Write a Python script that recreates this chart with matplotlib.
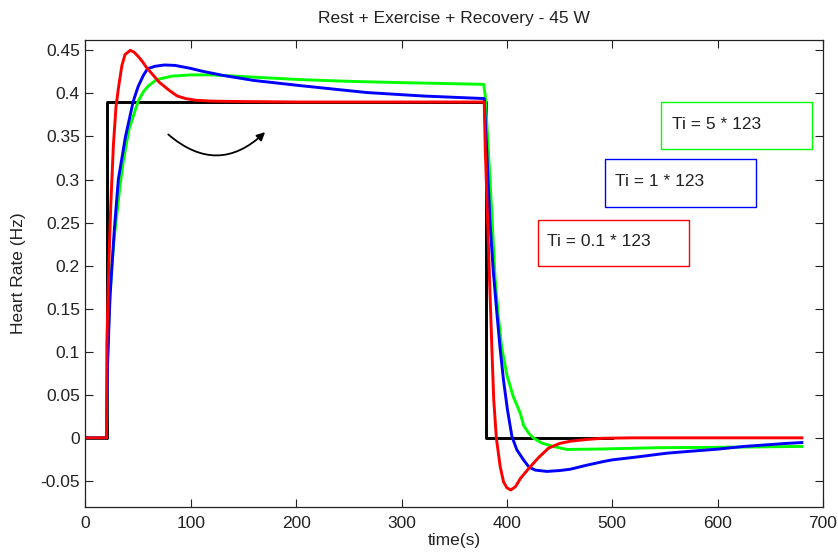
import matplotlib.pyplot as plt
from matplotlib.patches import Rectangle

plt.rcParams['font.family'] = ['Liberation Sans', 'DejaVu Sans']

# input step (black)
t_step = [0, 20, 20, 380, 380, 500]
hr_step = [0, 0, 0.39, 0.39, 0, 0]

# Ti = 5 * 123 (green)
t_green = [0, 20, 20.5, 21, 22, 23, 25, 27.5, 30, 32.8, 36, 41.3, 45, 50, 55, 60, 67.6, 82,
           100, 120, 150, 204, 250, 300, 340, 378, 379.5, 384, 388.9, 392, 395, 400, 406,
           412.6, 416, 421, 425, 433, 444, 457, 488, 542, 600, 680]
hr_green = [0, 0, 0.05, 0.09, 0.13, 0.16, 0.2, 0.235, 0.262, 0.293, 0.322, 0.358, 0.372, 0.391,
            0.402, 0.409, 0.416, 0.42, 0.4215, 0.4215, 0.4195, 0.416, 0.414, 0.4125, 0.4115,
            0.4105, 0.397, 0.3, 0.184, 0.14, 0.106, 0.073, 0.048, 0.029, 0.014, 0.005, 0.0,
            -0.006, -0.010, -0.0135, -0.013, -0.0115, -0.011, -0.010]

# Ti = 1 * 123 (blue)
t_blue = [0, 20, 21, 23.3, 27.4, 31.2, 38, 45.4, 50, 55, 59, 66, 75, 85, 100, 110, 130, 160,
          204, 267, 320, 378.5, 381, 384, 387, 390.5, 393.5, 396.8, 400.5, 404.8, 409.5,
          415.8, 421, 427, 438, 450, 460, 475, 491.7, 500, 525, 552, 575, 599.5, 625, 647,
          665, 680]
hr_blue = [0, 0, 0.087, 0.164, 0.242, 0.3, 0.35, 0.391, 0.408, 0.421, 0.4287, 0.4315, 0.433,
           0.4325, 0.429, 0.426, 0.421, 0.415, 0.409, 0.401, 0.397, 0.394, 0.33, 0.25, 0.195,
           0.145, 0.105, 0.067, 0.033, 0.0015, -0.014, -0.0256, -0.034, -0.0375, -0.039,
           -0.038, -0.0365, -0.032, -0.0275, -0.0256, -0.022, -0.0178, -0.0155, -0.0132,
           -0.010, -0.0081, -0.0065, -0.0055]

# Ti = 0.1 * 123 (red)
t_red = [0, 20, 20.3, 22, 24, 26.5, 29, 31.5, 34.5, 37.5, 42.5, 46, 50, 54, 58, 63, 70, 79,
         87, 95, 105, 120, 150, 200, 300, 378.5, 379.4, 382.5, 385.7, 387.5, 390, 393.6,
         396.8, 400, 403.6, 408, 413, 420.5, 430, 439.5, 450, 460, 475, 491, 520, 680]
hr_red = [0, 0, 0.11, 0.195, 0.27, 0.34, 0.385, 0.408, 0.432, 0.445, 0.450, 0.448, 0.443,
          0.437, 0.430, 0.423, 0.413, 0.404, 0.397, 0.394, 0.392, 0.391, 0.3905, 0.39, 0.39,
          0.39, 0.339, 0.222, 0.106, 0.045, 0.0, -0.033, -0.051, -0.058, -0.0605, -0.057,
          -0.047, -0.036, -0.023, -0.012, -0.0065, -0.004, -0.002, -0.0005, 0, 0]

fig = plt.figure(figsize=(8.38, 5.58), dpi=100)
ax = fig.add_axes([0.102, 0.0919, 0.880, 0.8364])

lw = 2.1
ax.plot(t_step, hr_step, color='k', lw=lw)
ax.plot(t_green, hr_green, color=(0, 1, 0), lw=lw)
ax.plot(t_blue, hr_blue, color=(0, 0, 1), lw=lw)
ax.plot(t_red, hr_red, color=(1, 0, 0), lw=lw)

ax.set_xlim(0, 700)
ax.set_ylim(-0.08, 0.462)
ax.set_xticks(range(0, 701, 100))
yt = [-0.05 + 0.05 * i for i in range(11)]
ax.set_yticks(yt)
ax.set_yticklabels(['%g' % round(v, 2) for v in yt])
ax.tick_params(direction='in', top=True, right=True, length=6, width=0.8,
               labelsize=12.5, colors='#222222')
ax.tick_params(axis='x', pad=7)
ax.tick_params(axis='y', pad=4)
for s in ax.spines.values():
    s.set_linewidth(0.9)
    s.set_color('#222222')

ax.set_title('Rest + Exercise + Recovery - 45 W', fontsize=12.5, pad=12, color='#222222')
ax.set_xlabel('time(s)', fontsize=12.5, labelpad=1, color='#222222')
ax.set_ylabel('Heart Rate (Hz)', fontsize=12.5, labelpad=10, color='#222222')

# curved arrow on the exercise plateau
ax.annotate('', xy=(170.5, 0.355), xytext=(78.6, 0.3523),
            arrowprops=dict(arrowstyle='-|>', connectionstyle='arc3,rad=0.45',
                            color='k', lw=1.3, mutation_scale=12, shrinkA=0, shrinkB=0))

# labelled boxes
boxes = [
    ('Ti = 5 * 123', (0, 1, 0), 546.6, 0.3360, 0.3899, 556.7, 0.3634),
    ('Ti = 1 * 123', (0, 0, 1), 493.4, 0.2683, 0.3233, 502.9, 0.2975),
    ('Ti = 0.1 * 123', (1, 0, 0), 429.5, 0.2000, 0.2531, 438.0, 0.2280),
]
for label, col, x0, y0, y1, tx, ty in boxes:
    ax.add_patch(Rectangle((x0, y0), 143.5, y1 - y0, fill=False, edgecolor=col, lw=1.0))
    ax.text(tx, ty, label, fontsize=12.5, va='center', ha='left', color='#222222')

fig.savefig('out.png', dpi=100)
